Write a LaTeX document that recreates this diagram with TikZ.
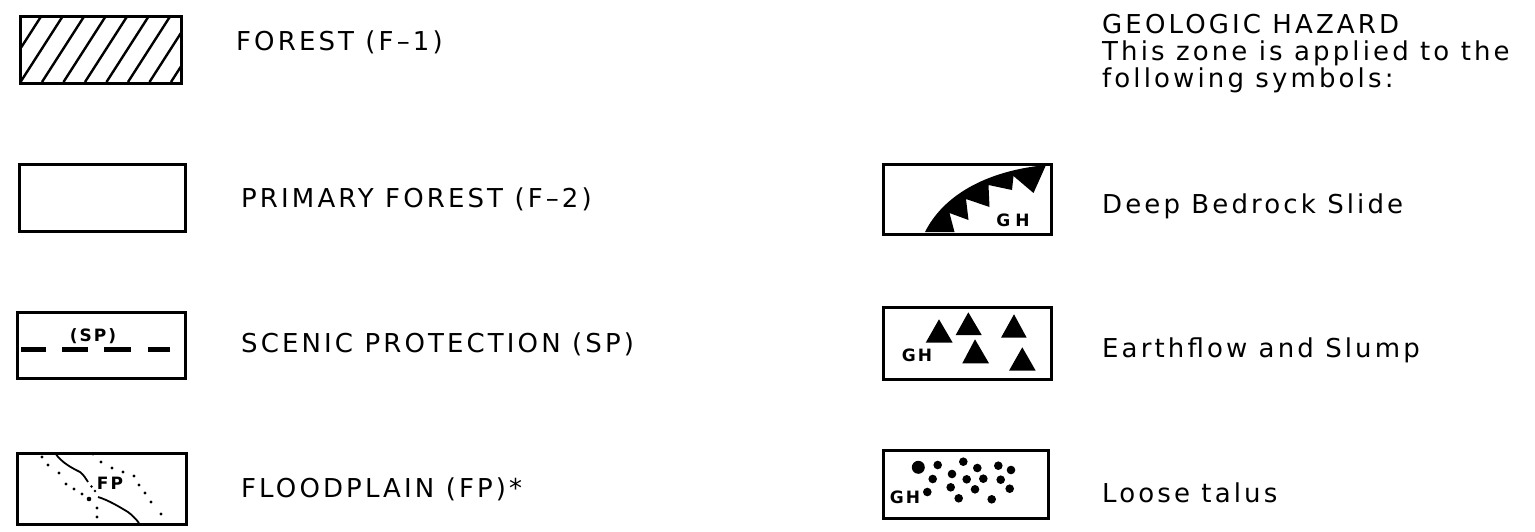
\documentclass[tikz,border=0pt]{standalone}
\usepackage{fontspec}
\setmainfont{DejaVu Sans}[LetterSpace=12]
\begin{document}
\begin{tikzpicture}[x=1pt,y=-1pt,
  legbox/.style={draw, line width=2.6pt, inner sep=0pt, anchor=north west},
  lbl/.style={anchor=base west, inner sep=0pt, font=\fontsize{26}{30}\selectfont},
  sym/.style={inner sep=0pt, font=\bfseries\fontsize{17}{20}\selectfont},
  hatch/.style={line width=2.4pt},
  dashseg/.style={line width=5pt},
  river/.style={line width=1.8pt}
]
\useasboundingbox[fill=white] (0,0) rectangle (1535,531);

% ---------- Forest (F-1): hatched box
\begin{scope}
\clip (19,15) rectangle (180,82);
\foreach \i in {0,...,9} \draw[hatch] ({-1+21.5*\i},82) -- ++(43,-67);
\end{scope}
\node[legbox, minimum width=161pt, minimum height=67pt] (b1) at (19,15) {};
\node[lbl] (t1) at (236,50.5) {FOREST (F–1)};

% ---------- Primary forest (F-2): empty box
\node[legbox, minimum width=166pt, minimum height=67pt] (b2) at (18,163) {};
\node[lbl] (t2) at (241,207) {PRIMARY FOREST (F–2)};

% ---------- Scenic protection
\node[legbox, minimum width=168pt, minimum height=66pt] (b3) at (16,311) {};
\draw[dashseg] (21,349) -- (46,349);
\draw[dashseg] (62,349) -- (88,349);
\draw[dashseg] (104,349) -- (131,349);
\draw[dashseg] (148,349) -- (170,349);
\node[sym] (sp) at (93,336) {(SP)};
\node[lbl] (t3) at (241,352) {SCENIC PROTECTION (SP)};

% ---------- Floodplain
\node[legbox, minimum width=169pt, minimum height=71pt] (b4) at (16,452) {};
\draw[river] (55,453) .. controls (62,463) and (72,468) .. (80,472)
             .. controls (84,475) and (86,479) .. (88,482);
\draw[river] (98,497) .. controls (108,500) and (118,506) .. (128,512)
             .. controls (132,515) and (136,519) .. (139,523);
\foreach \p in {(91.5,486.5),(95,491)} \fill \p circle (1.4pt);
\foreach \p in {(42,457),(48,465),(59,473),(66,484),(74,489),(82,494),(97,508),(97,517)}
  \fill \p circle (1.6pt);
\fill (89,499) circle (2.3pt);
\foreach \p in {(93,454),(101,462),(112,468),(123,472),(134,476),(139,485),(145,493),(151,502),(161,514)}
  \fill \p circle (1.6pt);
\node[sym] (fp) at (110,483) {FP};
\node[lbl] (t4) at (241,497) {FLOODPLAIN (FP)*};

% ---------- Header (right)
\node[lbl] (h1) at (1102,33) {GEOLOGIC HAZARD};
\node[lbl] (h2) at (1102,60) {This zone is applied to the};
\node[lbl] (h3) at (1102,87) {following symbols:};

% ---------- Deep bedrock slide
\fill (925,232) .. controls (943,196) and (985,171) .. (1046,165)
  -- (1033.5,193) -- (1013.5,176) -- (1012,190) -- (988.5,185)
  -- (989.5,207) -- (966,199) -- (968.5,220) -- (949.5,213)
  -- (954.5,232) -- cycle;
\node[legbox, minimum width=168pt, minimum height=70pt] (b5) at (882,163) {};
\node[sym] (gh1) at (1013,220) {G\hspace{5pt}H};
\node[lbl] (t5) at (1102,213) {Deep Bedrock Slide};

% ---------- Earthflow and slump
\node[legbox, minimum width=168pt, minimum height=72pt] (b6) at (882,306) {};
\fill (939,319.3) -- (925.7,342.7) -- (952.7,342.7) -- cycle;
\fill (968.3,312.3) -- (955.7,335) -- (981.7,335) -- cycle;
\fill (1014,314.3) -- (1001,337.7) -- (1026.7,337.7) -- cycle;
\fill (975,339.3) -- (962.3,363.3) -- (989,363.3) -- cycle;
\fill (1022.3,347.3) -- (1009,370.7) -- (1035.7,370.7) -- cycle;
\node[sym] (gh2) at (917,355) {GH};
\node[lbl] (t6) at (1102,357) {Earthflow and Slump};

% ---------- Loose talus
\node[legbox, minimum width=165pt, minimum height=68pt] (b7) at (882,449) {};
\fill (918.3,467.3) circle (6.5pt);
\foreach \p in {(937.7,465),(963.3,461.7),(977.3,468),(998.3,465.7),(1011,470),
  (932.7,479),(952,474),(966.7,479.3),(983.3,478.7),(1000.7,479.7),
  (927.3,492),(950.7,487.3),(975,489.3),(1009.7,488.7),(958.7,498.3),(991.7,499.3)}
  \fill \p circle (4.3pt);
\node[sym] (gh3) at (905,497.5) {GH};
\node[lbl] (t7) at (1102,502) {Loose talus};
\end{tikzpicture}
\end{document}
